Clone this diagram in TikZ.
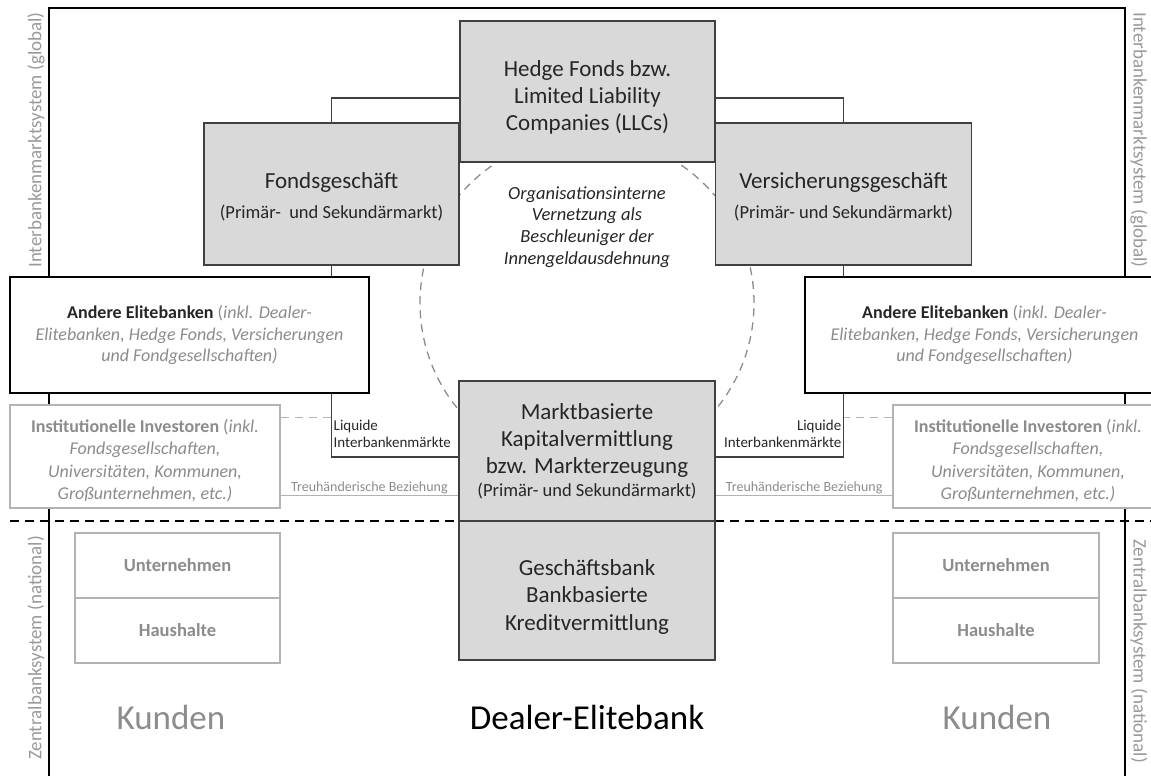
\documentclass[tikz,border=0pt]{standalone}
\usepackage{fontspec}
\setmainfont{Carlito}
\usetikzlibrary{calc}
\definecolor{boxfill}{HTML}{D9D9D9}
\definecolor{boxline}{HTML}{404040}
\definecolor{txt}{HTML}{262626}
\definecolor{gtxt}{HTML}{8C8C8C}
\definecolor{lgline}{HTML}{B3B3B3}
\definecolor{sidetxt}{HTML}{999999}
\newcommand{\fsbig}{\fontsize{23}{27}\selectfont}
\newcommand{\fssub}{\fontsize{18.5}{22}\selectfont}
\tikzset{
  gbox/.style={draw=boxline, line width=1.3pt, fill=boxfill, inner sep=0pt, align=center, text=txt},
  wbox/.style={draw=black, line width=1.5pt, fill=white, inner sep=0pt, align=center, text=txt},
  ibox/.style={draw=lgline, line width=1.3pt, fill=white, inner sep=0pt, align=center, text=gtxt},
  conn/.style={draw=boxline, line width=1.2pt},
  boxtext/.style={align=center, text=txt, inner sep=0pt},
  sidelabel/.style={text=sidetxt, font=\fontsize{19}{21}\selectfont, inner sep=0pt},
  big/.style={font=\fontsize{23}{27}\selectfont},
  mid/.style={font=\fontsize{18}{21.5}\selectfont},
  small/.style={font=\fontsize{15}{17}\selectfont, inner sep=1pt},
  ktext/.style={font=\bfseries\fontsize{18.5}{20}\selectfont},
}
\begin{document}
\begin{tikzpicture}[x=1pt,y=-1pt]
\useasboundingbox (0,0) rectangle (1151,776);
\clip (0,0) rectangle (1151,776);
% frame
\draw[line width=1.5pt, black] (49,776) -- (49,8) -- (1125,8) -- (1125,776);
% side labels
\node[sidelabel, rotate=90] (sl1) at (36,140) {Interbankenmarktsystem (global)};
\node[sidelabel, rotate=-90] (sr1) at (1139,140) {Interbankenmarktsystem (global)};
\node[sidelabel, rotate=90] (sl2) at (36,648) {Zentralbanksystem (national)};
\node[sidelabel, rotate=-90] (sr2) at (1139,651) {Zentralbanksystem (national)};
% dashed circle
\draw[gtxt, dash pattern=on 8pt off 6pt, line width=1.3pt] (587,303) circle[radius=167pt];
% horizontal dashed separator
\draw[black, line width=1.5pt, dash pattern=on 9pt off 6pt] (10,521) -- (1151,521);
% boxes
\node[gbox, minimum width=255pt, minimum height=141pt] (hedge) at (587.5,91.5) {};
\node[boxtext, big] (hedgeT) at ($(hedge.center)+(0,5.5)$) {Hedge Fonds bzw.\\Limited Liability\\Companies (LLCs)};
\node[gbox, minimum width=255pt, minimum height=142pt] (fonds) at (331.5,194) {};
\node[boxtext, font=\fontsize{23}{30}\selectfont] (fondsT) at ($(fonds.center)+(0,3)$) {\fsbig Fondsgeschäft\\\fssub (Primär-\ \ und Sekundärmarkt)};
\node[gbox, minimum width=256pt, minimum height=142pt] (vers) at (843.5,194) {};
\node[boxtext, font=\fontsize{23}{30}\selectfont] (versT) at ($(vers.center)+(0,3)$) {\fsbig Versicherungsgeschäft\\\fssub (Primär- und Sekundärmarkt)};
% connectors top
\draw[conn] (fonds.north) |- ($(hedge.west)+(0,6.5)$);
\draw[conn] (vers.north) |- ($(hedge.east)+(0,6.5)$);
\draw[conn] (fonds.south) -- ++(0,13) coordinate (aLtop);
\draw[conn] (vers.south) -- ++(0,13) coordinate (aRtop);
% Andere Elitebanken
\node[wbox, minimum width=359pt, minimum height=116pt, mid] (andL) at (189.5,335) {\textbf{Andere Elitebanken} \textcolor{gtxt}{(\textit{inkl. Dealer-}}\\\textcolor{gtxt}{\textit{Elitebanken, Hedge Fonds, Versicherungen}}\\\textcolor{gtxt}{\textit{und Fondgesellschaften)}}};
\node[wbox, minimum width=359pt, minimum height=116pt, mid] (andR) at (984.5,335) {\textbf{Andere Elitebanken} \textcolor{gtxt}{(\textit{inkl. Dealer-}}\\\textcolor{gtxt}{\textit{Elitebanken, Hedge Fonds, Versicherungen}}\\\textcolor{gtxt}{\textit{und Fondgesellschaften)}}};
% Markt / Geschäftsbank
\node[gbox, line width=1.8pt, minimum width=256pt, minimum height=140pt] (markt) at (587,451) {};
\node[boxtext, font=\fontsize{23}{27}\selectfont] (marktT) at ($(markt.center)+(0,0)$) {\fsbig Marktbasierte\\\fsbig Kapitalvermittlung\\\fsbig bzw. Markterzeugung\\[-4pt]\fssub (Primär- und Sekundärmarkt)};
\node[gbox, line width=1.8pt, minimum width=256pt, minimum height=139pt] (gesch) at (587,590.5) {};
\node[boxtext, font=\fontsize{23}{27.5}\selectfont] (geschT) at ($(gesch.center)+(0,6)$) {Geschäftsbank\\Bankbasierte\\Kreditvermittlung};
% Liquide Interbankenmärkte connectors
\draw[conn] (andL.south -| fonds.south) |- ($(markt.west)+(0,6)$) coordinate (lqL);
\draw[conn] (andR.south -| vers.south) |- ($(markt.east)+(0,6)$) coordinate (lqR);
\node[small, anchor=south west, align=left, text=txt] (lqLt) at ($(andL.south -| fonds.south)+(1,55)$) {Liquide\\Interbankenmärkte};
\node[small, anchor=south east, align=right, text=txt] (lqRt) at ($(andR.south -| vers.south)+(-1,55)$) {Liquide\\Interbankenmärkte};
% Institutionelle Investoren
\node[ibox, minimum width=270pt, minimum height=103pt] (instL) at (145,456.5) {};
\node[boxtext, text=gtxt, font=\fontsize{18}{22.5}\selectfont] (instLT) at ($(instL.center)+(0,4)$) {\textbf{Institutionelle Investoren} (\textit{inkl.}\\\textit{Fondsgesellschaften,}\\\textit{Universitäten, Kommunen,}\\\textit{Großunternehmen, etc.)}};
\node[ibox, minimum width=270pt, minimum height=103pt] (instR) at (1028,456.5) {};
\node[boxtext, text=gtxt, font=\fontsize{18}{22.5}\selectfont] (instRT) at ($(instR.center)+(0,4)$) {\textbf{Institutionelle Investoren} (\textit{inkl.}\\\textit{Fondsgesellschaften,}\\\textit{Universitäten, Kommunen,}\\\textit{Großunternehmen, etc.)}};
% dashed gray links
\draw[lgline, line width=1.3pt, dash pattern=on 8pt off 6pt] ($(instL.north east)+(0,13)$) coordinate (dL) -- (dL -| fonds.south);
\draw[lgline, line width=1.3pt, dash pattern=on 8pt off 6pt] ($(instR.north west)+(0,13)$) coordinate (dR) -- (dR -| vers.south);
% Treuhänderische Beziehung
\draw[lgline, line width=1.3pt] ($(instL.south east)+(0,-13)$) coordinate (tL) -- (tL -| markt.west);
\draw[lgline, line width=1.3pt] ($(instR.south west)+(0,-13)$) coordinate (tR) -- (tR -| markt.east);
\node[small, font=\fontsize{14}{16}\selectfont, anchor=south, text=gtxt] (tLt) at ($(tL)!0.5!(tL -| markt.west)+(0,-0.5)$) {Treuhänderische Beziehung};
\node[small, font=\fontsize{14}{16}\selectfont, anchor=south, text=gtxt] (tRt) at ($(tR)!0.5!(tR -| markt.east)+(0,-0.5)$) {Treuhänderische Beziehung};
% circle text
\node[text=txt, align=center, font=\itshape\fontsize{18.5}{21.7}\selectfont] (circ) at (587,227) {Organisationsinterne\\Vernetzung als\\Beschleuniger der\\Innengeldausdehnung};
% Kunden boxes
\node[ibox, minimum width=205pt, minimum height=65pt, ktext] (untL) at (177.5,565.5) {Unternehmen};
\node[ibox, minimum width=205pt, minimum height=65pt, ktext] (hauL) at (177.5,630.5) {Haushalte};
\node[ibox, minimum width=206pt, minimum height=65pt, ktext] (untR) at (996,565.5) {Unternehmen};
\node[ibox, minimum width=206pt, minimum height=65pt, ktext] (hauR) at (996,630.5) {Haushalte};
% bottom labels
\node[text=gtxt, font=\fontsize{35}{40}\selectfont] (kL) at (171,717) {Kunden};
\node[text=gtxt, font=\fontsize{35}{40}\selectfont] (kR) at (997,717) {Kunden};
\node[text=black, font=\fontsize{35}{40}\selectfont] (dealer) at (587,717) {Dealer-Elitebank};
\end{tikzpicture}
\end{document}
